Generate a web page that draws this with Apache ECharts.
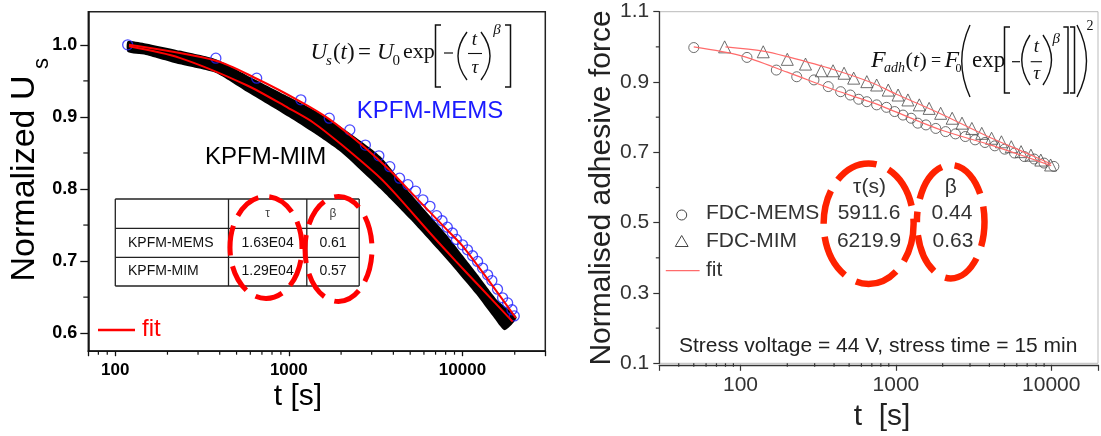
<!DOCTYPE html>
<html>
<head>
<meta charset="utf-8">
<style>
  html, body { margin: 0; padding: 0; background: #fff; }
  #main { width: 1101px; height: 436px; }
</style>
<script src="https://cdn.jsdelivr.net/npm/echarts@6/dist/echarts.min.js"></script>
</head>
<body>
<div id="main"></div>
<script>
// ---- left panel: KPFM decay ----
var memsT = [118, 380, 653, 1173, 1710, 2245, 2760, 3300, 3815, 4345, 4851, 5370, 5918, 6500, 7100, 7630, 8180, 8750, 9230, 10000, 10690, 11430, 12220, 13060, 13960, 14770, 15920, 17020, 18200, 19280, 19870];
var memsV = [1.0, 0.9815, 0.9538, 0.9237, 0.8983, 0.882, 0.861, 0.846, 0.831, 0.815, 0.806, 0.797, 0.785, 0.776, 0.763, 0.756, 0.747, 0.739, 0.730, 0.7226, 0.7157, 0.7074, 0.6995, 0.6903, 0.681, 0.673, 0.661, 0.649, 0.642, 0.6325, 0.624];

// KPFM-MIM is so dense it reads as a band: upper and lower edge
var bandTopT = [118, 150, 235, 380, 572, 1000, 1387, 2000, 3373, 5000, 8000, 12000, 16000, 20500];
var bandTopV = [1.005, 1.002, 0.992, 0.980, 0.958, 0.928, 0.910, 0.886, 0.845, 0.794, 0.738, 0.684, 0.645, 0.622];
var bandBotT = [118, 150, 235, 380, 572, 1000, 1387, 2000, 3373, 5000, 8000, 12000, 15000, 17500];
var bandBotV = [0.990, 0.986, 0.973, 0.961, 0.935, 0.900, 0.878, 0.851, 0.800, 0.758, 0.704, 0.654, 0.623, 0.604];

var memsFitT = [120, 380, 653, 1173, 1710, 2760, 3815, 5500, 8180, 10000, 14770, 20300];
var memsFitV = [1.000, 0.978, 0.953, 0.921, 0.897, 0.857, 0.826, 0.786, 0.743, 0.721, 0.667, 0.621];
var mimFitT = [120, 235, 572, 1000, 1387, 2000, 3373, 4300, 6500, 9150, 12760, 19450];
var mimFitV = [0.998, 0.982, 0.944, 0.912, 0.892, 0.862, 0.815, 0.788, 0.739, 0.700, 0.663, 0.616];

var leftMajorY = [0.6, 0.7, 0.8, 0.9, 1.0];
var leftMinorY = [0.65, 0.75, 0.85, 0.95];
var leftMinorX = [80, 90, 200, 300, 400, 500, 600, 700, 800, 900, 2000, 3000, 4000, 5000, 6000, 7000, 8000, 9000, 20000];

// ---- right panel: adhesive force ----
var fdcMemsT = [50, 110, 170, 230, 297, 367, 441, 509, 576, 650, 752, 870, 982, 1111, 1254, 1383, 1561, 1806, 2090, 2417, 2797, 3236, 3746, 4334, 5015, 5804, 6715, 7770, 8990, 10400];
var fdcMemsV = [0.998, 0.970, 0.934, 0.915, 0.906, 0.887, 0.8725, 0.863, 0.851, 0.844, 0.835, 0.828, 0.816, 0.806, 0.797, 0.783, 0.778, 0.768, 0.759, 0.7525, 0.745, 0.7355, 0.728, 0.7185, 0.709, 0.698, 0.688, 0.681, 0.6695, 0.660];
var fdcMimT = [79, 140, 200, 262, 331, 394, 464, 535, 650, 752, 893, 1033, 1195, 1415, 1637, 1942, 2303, 2665, 3083, 3571, 4130, 4780, 5531, 6397, 7400, 8570, 9910];
var fdcMimV = [1.000, 0.986, 0.9645, 0.951, 0.932, 0.932, 0.925, 0.911, 0.901, 0.8915, 0.877, 0.863, 0.849, 0.835, 0.825, 0.811, 0.797, 0.783, 0.768, 0.754, 0.740, 0.730, 0.716, 0.702, 0.692, 0.678, 0.664];

var fdcMemsFitT = [50, 100, 200, 400, 700, 1000, 2000, 4000, 7000, 10000];
var fdcMemsFitV = [1.000, 0.975, 0.928, 0.878, 0.842, 0.815, 0.762, 0.722, 0.686, 0.662];
var fdcMimFitT = [80, 140, 200, 400, 700, 1000, 2000, 4000, 7000, 10000];
var fdcMimFitV = [1.000, 0.988, 0.972, 0.935, 0.898, 0.866, 0.807, 0.743, 0.697, 0.667];

var rightMajorY = [0.1, 0.3, 0.5, 0.7, 0.9, 1.1];
var rightMinorY = [0.2, 0.4, 0.6, 0.8, 1.0];
var rightMinorX = [40, 50, 60, 70, 80, 90, 200, 300, 400, 500, 600, 700, 800, 900, 2000, 3000, 4000, 5000, 6000, 7000, 8000, 9000];

var SANS = 'Liberation Sans, Arial, sans-serif';
var SERIF = 'Liberation Serif, Times New Roman, serif';

function zip(a, b) {
  return a.map(function (v, i) { return [v, b[i]]; });
}

function isDecade(v) {
  var l = Math.log10(v);
  return Math.abs(l - Math.round(l)) < 1e-6;
}

// minor ticks drawn through the axes' own scales
function tickSeries(gi, xs, ys, xMin, yMin, lenX, lenY, color) {
  var data = xs.map(function (t) { return [t, yMin, 0]; })
    .concat(ys.map(function (v) { return [xMin, v, 1]; }));
  return {
    type: 'custom', xAxisIndex: gi, yAxisIndex: gi, clip: false, silent: true, z: 6,
    data: data,
    renderItem: function (params, api) {
      var p = api.coord([api.value(0), api.value(1)]);
      var shape = api.value(2) === 0
        ? { x1: p[0], y1: p[1], x2: p[0], y2: p[1] + lenX }
        : { x1: p[0] - lenY, y1: p[1], x2: p[0], y2: p[1] };
      return { type: 'line', shape: shape, style: { stroke: color, lineWidth: 1.2 } };
    }
  };
}

function txt(x, y, text, size, extra, rot) {
  var st = { text: text, fontSize: size, fontFamily: SANS, fill: '#222', align: 'left', verticalAlign: 'middle' };
  for (var k in extra) st[k] = extra[k];
  var el = { type: 'text', x: x, y: y, z: 100, style: st };
  if (rot) el.rotation = rot;
  return el;
}
function eq(x, y, text, size, italic, align) {
  return txt(x, y, text, size, {
    fontFamily: SERIF, fill: '#111', fontStyle: italic ? 'italic' : 'normal', align: align || 'left'
  });
}
function ln(x1, y1, x2, y2, color, w) {
  return { type: 'line', z: 100, shape: { x1: x1, y1: y1, x2: x2, y2: y2 }, style: { stroke: color, lineWidth: w } };
}
function pl(points, w) {
  return { type: 'polyline', z: 100, shape: { points: points }, style: { stroke: '#111', lineWidth: w, fill: null } };
}
function paren(x, y1, y2, cx) {
  return { type: 'bezierCurve', z: 100, shape: { x1: x, y1: y1, x2: x, y2: y2, cpx1: cx, cpy1: (y1 + y2) / 2 },
    style: { stroke: '#111', lineWidth: 1.4, fill: null } };
}
function ring(cx, cy, rx, ry, color, w, dash, off) {
  return { type: 'ellipse', z: 110, shape: { cx: cx, cy: cy, rx: rx, ry: ry },
    style: { fill: null, stroke: color, lineWidth: w, lineDash: dash, lineDashOffset: off } };
}

var gfx = [
  // left titles
  txt(25, 178.5, 'Normalized U', 34, { fill: '#000', align: 'center' }, Math.PI / 2),
  txt(42, 63.5, 's', 22, { fill: '#000', align: 'center' }, Math.PI / 2),
  txt(298, 397, 't [s]', 30, { fill: '#000', align: 'center' }),
  txt(356.7, 111, 'KPFM-MEMS', 24, { fill: '#1a1aff' }),
  txt(205, 157.5, 'KPFM-MIM', 24, { fill: '#000' }),
  ln(98, 330, 135, 330, '#f00', 2.5),
  txt(142, 329, 'fit', 24, { fill: '#f00' }),

  // left table
  ln(115.3, 199, 359.2, 199, '#222', 1.3),
  ln(115.3, 228.3, 359.2, 228.3, '#222', 1.3),
  ln(115.3, 257.3, 359.2, 257.3, '#222', 1.3),
  ln(115.3, 286, 359.2, 286, '#222', 1.3),
  ln(115.3, 199, 115.3, 286, '#222', 1.3),
  ln(228.5, 199, 228.5, 286, '#222', 1.3),
  ln(306.8, 199, 306.8, 286, '#222', 1.3),
  ln(359.2, 199, 359.2, 286, '#222', 1.3),
  txt(267.6, 213.7, 'τ', 12, { fill: '#444', align: 'center' }),
  txt(333, 213.7, 'β', 12, { fill: '#444', align: 'center' }),
  txt(128, 242.8, 'KPFM-MEMS', 14, { fill: '#111' }),
  txt(267.6, 242.8, '1.63E04', 14, { fill: '#111', align: 'center' }),
  txt(333, 242.8, '0.61', 14, { fill: '#111', align: 'center' }),
  txt(128, 271.6, 'KPFM-MIM', 14, { fill: '#111' }),
  txt(267.6, 271.6, '1.29E04', 14, { fill: '#111', align: 'center' }),
  txt(333, 271.6, '0.57', 14, { fill: '#111', align: 'center' }),
  ring(266, 247.5, 36, 51, '#f00', 5, [28, 11], 6),
  ring(338.5, 249, 33.5, 52.5, '#f00', 5, [28, 11], 14),

  // left equation
  eq(310.5, 52.5, 'U', 23, true),
  eq(326, 61, 's', 15, true),
  eq(333, 52.5, '(', 23),
  eq(340.5, 52.5, 't', 23, true),
  eq(347, 52.5, ')', 23),
  eq(358, 52.5, '=', 23),
  eq(377, 52.5, 'U', 23, true),
  eq(392.5, 61, '0', 15),
  eq(403, 52.5, 'exp', 22),
  pl([[441, 25], [435.5, 25], [435.5, 87], [441, 87]], 1.5),
  ln(444, 53, 453, 53, '#111', 1.2),
  paren(467, 32, 80, 449),
  eq(474.5, 40, 't', 19, true, 'center'),
  ln(468, 53.5, 482, 53.5, '#111', 1.1),
  eq(475, 67.5, 'τ', 19, true, 'center'),
  paren(481, 32, 80, 499),
  eq(497, 30, 'β', 15, true, 'center'),
  pl([[505, 25], [510.5, 25], [510.5, 87], [505, 87]], 1.5),

  // right titles and legend
  txt(602, 188, 'Normalised adhesive force', 30, { fill: '#222', align: 'center' }, Math.PI / 2),
  txt(882, 417, 't  [s]', 30, { fill: '#222', align: 'center' }),
  { type: 'circle', z: 100, shape: { cx: 681.7, cy: 215, r: 5 }, style: { fill: null, stroke: '#444', lineWidth: 1 } },
  { type: 'polygon', z: 100, shape: { points: [[681.7, 235.5], [675.3, 246.5], [688.1, 246.5]] }, style: { fill: null, stroke: '#444', lineWidth: 1 } },
  ln(665.8, 270.7, 699.6, 270.7, '#ff6b6b', 1.2),
  txt(706, 213.3, 'FDC-MEMS', 21, { fill: '#333' }),
  txt(706, 241.7, 'FDC-MIM', 21, { fill: '#333' }),
  txt(706, 270, 'fit', 21, { fill: '#333' }),
  txt(869.5, 187, 'τ(s)', 21, { fill: '#333', align: 'center' }),
  txt(950.7, 187, 'β', 21, { fill: '#333', align: 'center' }),
  txt(869, 213.3, '5911.6', 21, { fill: '#333', align: 'center' }),
  txt(952, 213.3, '0.44', 21, { fill: '#333', align: 'center' }),
  txt(869, 241.7, '6219.9', 21, { fill: '#333', align: 'center' }),
  txt(953, 241.7, '0.63', 21, { fill: '#333', align: 'center' }),
  txt(679, 346.7, 'Stress voltage = 44 V, stress time = 15 min', 21, { fill: '#222' }),
  ring(868.6, 223.7, 45, 60.3, '#ff2200', 6.5, [44, 13], 10),
  ring(950.7, 221.7, 33.8, 56.7, '#ff2200', 6.5, [40, 13], 30),

  // right equation
  eq(871, 61, 'F', 24, true),
  eq(884, 68.5, 'adh', 14, true),
  eq(905.5, 61, '(', 22),
  eq(913, 61, 't', 22, true),
  eq(919.5, 61, ')', 22),
  eq(931, 61.5, '=', 18),
  eq(944.5, 61, 'F', 24, true),
  eq(955.5, 68.5, '0', 12),
  paren(970, 25, 97, 953.5),
  eq(972, 61, 'exp', 23),
  pl([[1010, 27], [1004.5, 27], [1004.5, 93], [1010, 93]], 1.5),
  ln(1012, 61.7, 1020, 61.7, '#111', 1.2),
  paren(1030, 35, 85, 1013.5),
  eq(1036.5, 46.5, 't', 19, true, 'center'),
  ln(1030.7, 61.7, 1042, 61.7, '#111', 1.1),
  eq(1036.7, 74, 'τ', 19, true, 'center'),
  paren(1043, 35, 85, 1060),
  eq(1056.3, 39, 'β', 15, true, 'center'),
  pl([[1063.3, 27], [1068, 27], [1068, 93], [1063.3, 93]], 1.5),
  pl([[1070, 27], [1074.5, 27], [1074.5, 93], [1070, 93]], 1.5),
  paren(1077, 25, 97, 1096),
  eq(1090, 26, '2', 14, false, 'center')
];

var chart = echarts.init(document.getElementById('main'), null, { renderer: 'canvas' });

var option = {
  animation: false,
  backgroundColor: '#fff',
  textStyle: { fontFamily: SANS },
  grid: [
    { left: 88.3, top: 11.7, width: 457, height: 339.5, show: true, borderColor: '#222', borderWidth: 1.5, backgroundColor: 'transparent' },
    { left: 659.3, top: 11.7, width: 445.6, height: 351.6, show: true, borderColor: '#bbb', borderWidth: 1, backgroundColor: 'transparent' }
  ],
  xAxis: [
    {
      type: 'log', gridIndex: 0, min: 70, max: 30000,
      axisLine: { lineStyle: { color: '#111', width: 1.5 } },
      axisTick: { length: 5, lineStyle: { color: '#111', width: 1.3 } },
      axisLabel: {
        margin: 11, fontSize: 17, fontWeight: 'bold', color: '#000', fontFamily: SANS,
        formatter: function (v) { return isDecade(v) ? String(Math.round(v)) : ''; }
      },
      splitLine: { show: false }
    },
    {
      type: 'log', gridIndex: 1, min: 30, max: 20000, offset: 1.5,
      axisLine: { lineStyle: { color: '#333', width: 1.3 } },
      axisTick: { length: 6, lineStyle: { color: '#333', width: 1.2 } },
      axisLabel: {
        margin: 10, fontSize: 21, color: '#333', fontFamily: SANS,
        formatter: function (v) { return isDecade(v) ? String(Math.round(v)) : ''; }
      },
      splitLine: { show: false }
    }
  ],
  yAxis: [
    {
      type: 'value', gridIndex: 0, min: 0.575, max: 1.046,
      axisLine: { show: true, lineStyle: { color: '#111', width: 1.5 } },
      axisTick: { show: true, length: 8, customValues: leftMajorY, lineStyle: { color: '#111', width: 1.3 } },
      axisLabel: {
        customValues: leftMajorY, margin: 11, fontSize: 18, fontWeight: 'bold', color: '#000', fontFamily: SANS,
        formatter: function (v) { return v.toFixed(1); }
      },
      splitLine: { show: false }
    },
    {
      type: 'value', gridIndex: 1, min: 0.1, max: 1.1,
      axisLine: { show: true, lineStyle: { color: '#333', width: 1.3 } },
      axisTick: { show: true, length: 6, customValues: rightMajorY, lineStyle: { color: '#333', width: 1.2 } },
      axisLabel: {
        customValues: rightMajorY, margin: 10, fontSize: 21, color: '#333', fontFamily: SANS,
        formatter: function (v) { return v.toFixed(1); }
      },
      splitLine: { show: false }
    }
  ],
  series: [
    {
      name: 'KPFM-MIM', type: 'custom', xAxisIndex: 0, yAxisIndex: 0, z: 1, silent: true,
      data: [[bandTopT[0], bandTopV[0]]],
      renderItem: function (params, api) {
        var pts = [];
        for (var i = 0; i < bandTopT.length; i++) pts.push(api.coord([bandTopT[i], bandTopV[i]]));
        for (var j = bandBotT.length - 1; j >= 0; j--) pts.push(api.coord([bandBotT[j], bandBotV[j]]));
        return { type: 'polygon', shape: { points: pts, smooth: 0.2 }, style: { fill: '#000' } };
      }
    },
    {
      name: 'KPFM-MEMS', type: 'scatter', xAxisIndex: 0, yAxisIndex: 0, z: 2,
      data: zip(memsT, memsV), symbol: 'circle', symbolSize: 10,
      itemStyle: { color: 'rgba(0,0,0,0)', borderColor: '#1f1fff', borderWidth: 1.3 }
    },
    {
      name: 'fit MEMS', type: 'line', xAxisIndex: 0, yAxisIndex: 0, z: 3,
      data: zip(memsFitT, memsFitV), smooth: 0.3, showSymbol: false,
      lineStyle: { color: '#f00', width: 2 }
    },
    {
      name: 'fit MIM', type: 'line', xAxisIndex: 0, yAxisIndex: 0, z: 3,
      data: zip(mimFitT, mimFitV), smooth: 0.3, showSymbol: false,
      lineStyle: { color: '#f00', width: 2 }
    },
    tickSeries(0, leftMinorX, leftMinorY, 70, 0.575, 3.5, 5, '#111'),

    {
      name: 'FDC-MEMS', type: 'scatter', xAxisIndex: 1, yAxisIndex: 1, z: 2,
      data: zip(fdcMemsT, fdcMemsV), symbol: 'circle', symbolSize: 10,
      itemStyle: { color: 'rgba(0,0,0,0)', borderColor: '#4a4a4a', borderWidth: 1 }
    },
    {
      name: 'FDC-MIM', type: 'scatter', xAxisIndex: 1, yAxisIndex: 1, z: 2,
      data: zip(fdcMimT, fdcMimV), symbol: 'triangle', symbolSize: 12,
      itemStyle: { color: 'rgba(0,0,0,0)', borderColor: '#4a4a4a', borderWidth: 1 }
    },
    {
      name: 'fit FDC-MEMS', type: 'line', xAxisIndex: 1, yAxisIndex: 1, z: 3,
      data: zip(fdcMemsFitT, fdcMemsFitV), smooth: 0.3, showSymbol: false,
      lineStyle: { color: '#ff6b6b', width: 1.2 }
    },
    {
      name: 'fit FDC-MIM', type: 'line', xAxisIndex: 1, yAxisIndex: 1, z: 3,
      data: zip(fdcMimFitT, fdcMimFitV), smooth: 0.3, showSymbol: false,
      lineStyle: { color: '#ff6b6b', width: 1.2 }
    },
    tickSeries(1, rightMinorX, rightMinorY, 30, 0.1, 3.5, 3.5, '#333')
  ],
  graphic: { elements: gfx }
};

chart.setOption(option);
</script>
</body>
</html>
